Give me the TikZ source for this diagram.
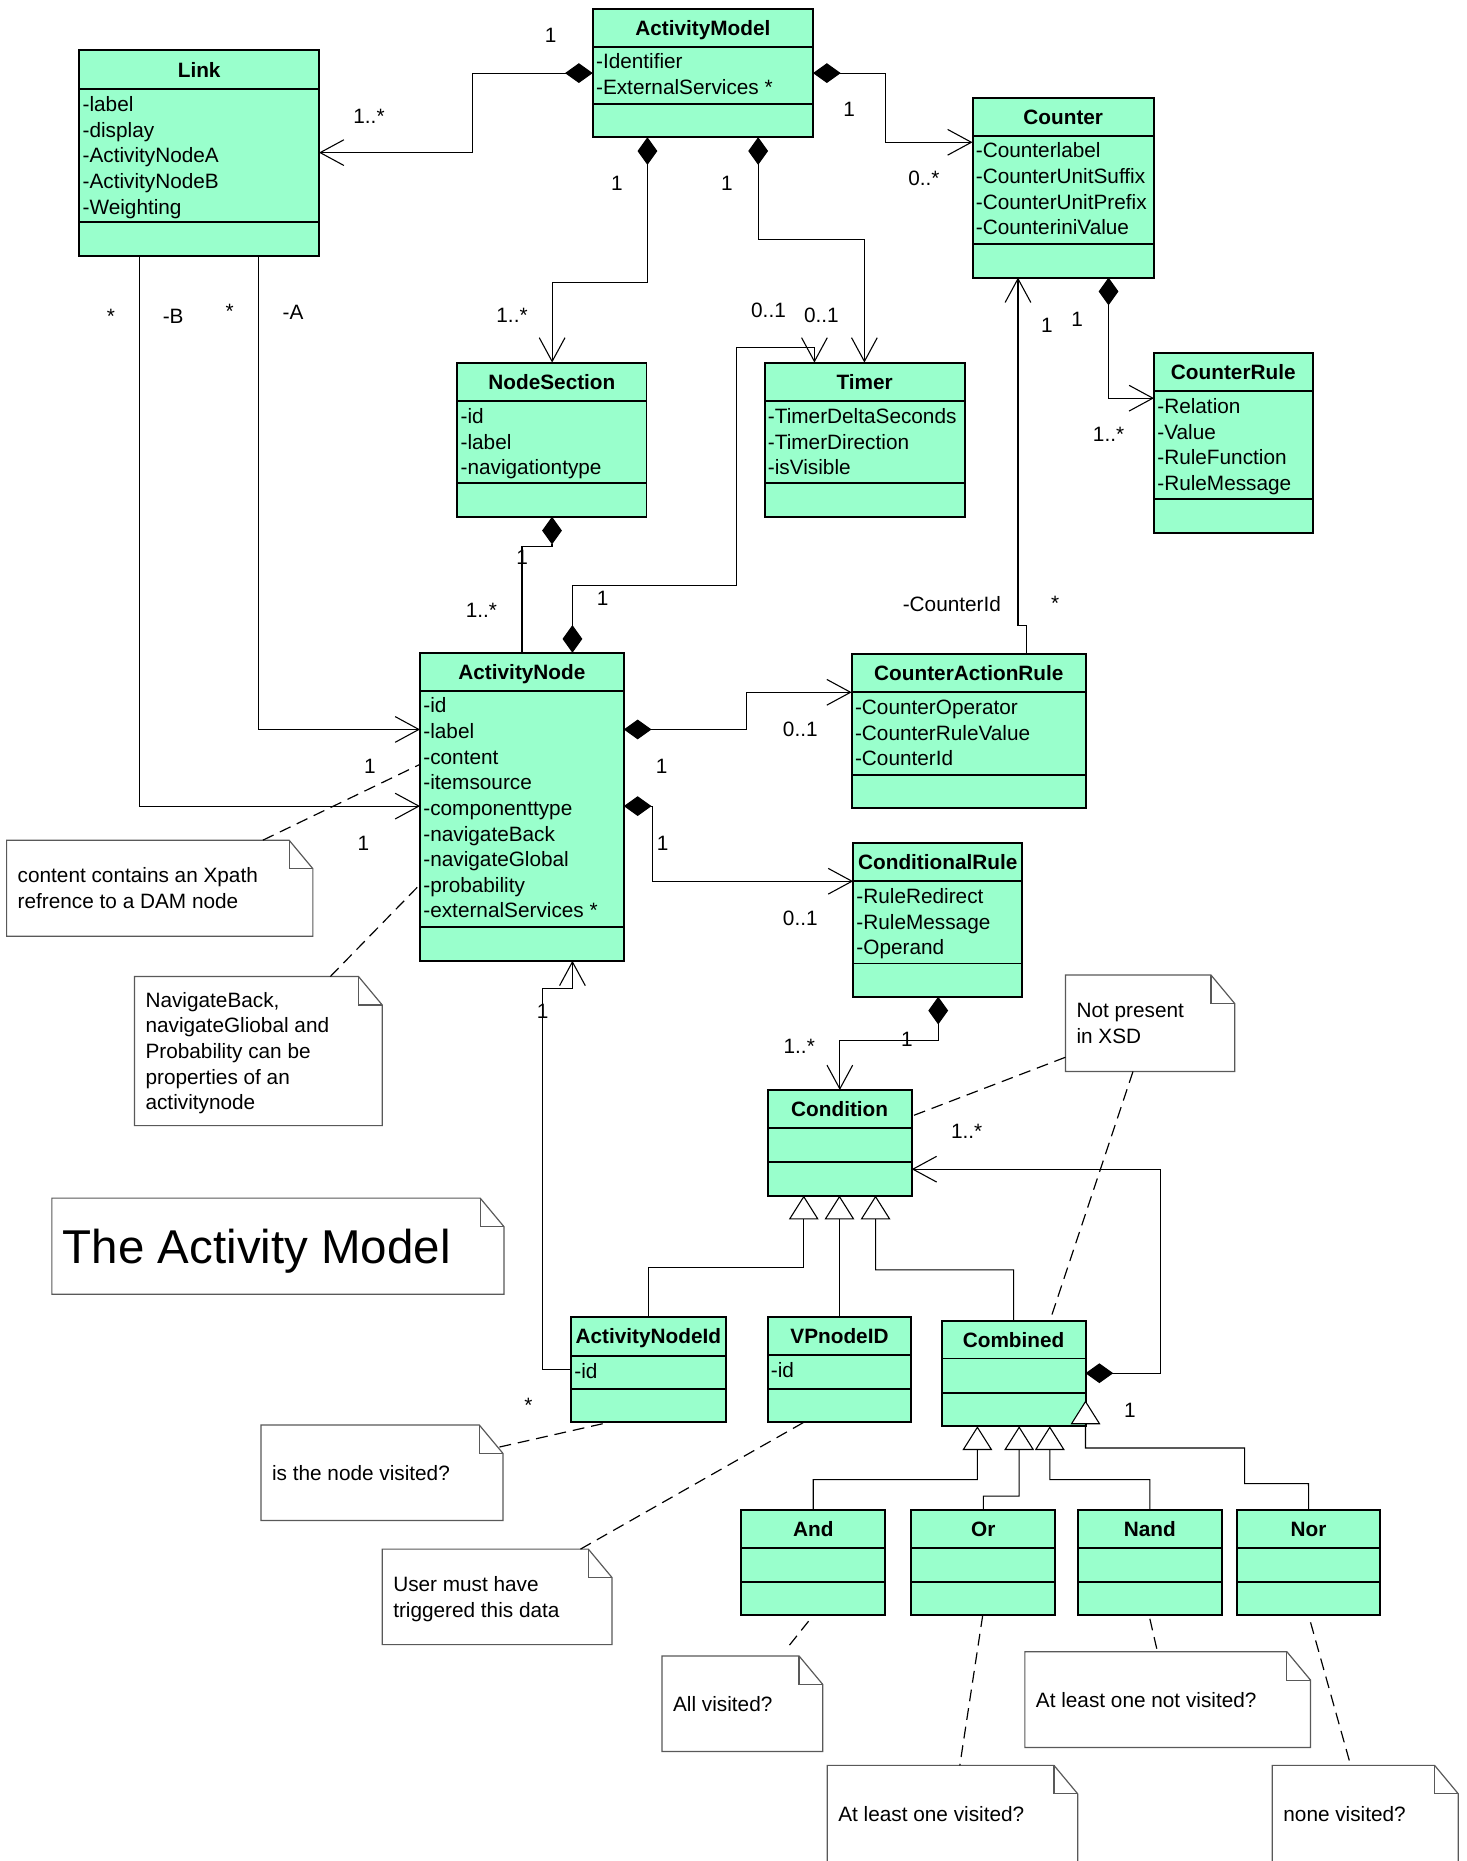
\documentclass[tikz,border=0pt]{standalone}
\usepackage{fontspec}
\setmainfont{Liberation Sans}
\usetikzlibrary{arrows.meta,calc}
\definecolor{mint}{HTML}{99FFCC}
\newcommand\UClass[9]{%
  \pgfmathsetmacro\UW{(#4-#2)*0.6}\pgfmathsetmacro\UH{(#5-#3)*0.6}%
  \node[clsbox, anchor=north west, minimum width=\UW pt, minimum height=\UH pt] (#1) at (#2,#3) {};
  \draw[clsline] (#1.west |- 0,#6) -- (#1.east |- 0,#6);
  \draw[clsline] (#1.west |- 0,#7) -- (#1.east |- 0,#7);
  \node[ctitle] (#1-t) at ({(#2+#4)/2},{(#3+#6)/2}) {#8};
  \foreach \a [count=\i from 0] in {#9} {\node[cattr] (#1-a\i) at ({#2+2.5},{#6+12.5+21.6*\i}) {\a};}
}
% name, x1, y1, x2, y2, number of lines, lines, text style
\newcommand\UNote[8]{%
  \pgfmathsetmacro\UW{(#4-#2)*0.6}\pgfmathsetmacro\UH{(#5-#3)*0.6}%
  \node[notebox, anchor=north west, minimum width=\UW pt, minimum height=\UH pt] (#1) at (#2,#3) {};
  \draw[noteline, fill=white] (#2,#3) -- ({#4-20},#3) -- (#4,{#3+24}) -- (#4,#5) -- (#2,#5) -- cycle;
  \draw[noteline] ({#4-20},#3) -- ({#4-20},{#3+24}) -- (#4,{#3+24});
  \foreach \ln [count=\i from 0] in {#7} {\node[notetext, #8] (#1-t\i) at ({#2+9},{(#3+#5)/2-(#6-1)*10.8+21.6*\i}) {\ln};}
}
\begin{document}
\begin{tikzpicture}[x=0.6pt,y=-0.6pt,
  clsbox/.style={draw=black, line width=1pt, fill=mint, rectangle, inner sep=0pt, outer sep=0pt},
  clsline/.style={draw=black, line width=1pt},
  ctitle/.style={font=\fontsize{10.5}{13}\selectfont\bfseries, inner sep=0pt, text height=7.5pt, text depth=0pt},
  cattr/.style={font=\fontsize{10.5}{13}\selectfont, inner sep=0pt, anchor=west, text height=7.5pt, text depth=0pt},
  lbl/.style={font=\fontsize{10.5}{13}\selectfont, inner sep=0pt, text height=7.5pt, text depth=0pt},
  notebox/.style={rectangle, inner sep=0pt, outer sep=0pt},
  noteline/.style={draw=black!65, line width=0.6pt},
  notetext/.style={font=\fontsize{10.5}{13}\selectfont, inner sep=0pt, anchor=west, text height=7.5pt, text depth=0pt},
  bigtext/.style={font=\fontsize{24}{28}\selectfont, text height=17.2pt},
  conn/.style={line width=0.55pt, line join=miter},
  assoc/.style={conn, -{Straight Barb[length=12pt,width=13pt]}},
  comp/.style={conn, {Diamond[length=14pt,width=10pt]}-{Straight Barb[length=12pt,width=13pt]}},
  compplain/.style={conn, {Diamond[length=14pt,width=10pt]}-},
  gen/.style={conn, -{Triangle[length=12pt,width=15pt,fill=white]}},
  notelink/.style={line width=0.6pt, dash pattern=on 6pt off 3.5pt}
]
\fill[white] (0,0) rectangle (1236,1568);
\useasboundingbox (0,0) rectangle (1236,1568);

% ---------- classes ----------
\UClass{AM}{499.4}{7.3}{685}{115.6}{39.3}{87.6}{ActivityModel}{-Identifier,-ExternalServices *}
\UClass{Link}{66.8}{42}{268.8}{216}{75.3}{187}{Link}{-label,-display,-ActivityNodeA,-ActivityNodeB,-Weighting}
\UClass{Counter}{819.4}{82.3}{972.3}{233.9}{114.3}{205.5}{Counter}{-Counterlabel,-CounterUnitSuffix,-CounterUnitPrefix,-CounteriniValue}
\UClass{CRule}{972.3}{297.2}{1105.9}{449}{329.8}{420.8}{CounterRule}{-Relation,-Value,-RuleFunction,-RuleMessage}
\UClass{Timer}{644.2}{305.5}{812.8}{435.4}{338.1}{407.1}{Timer}{-TimerDeltaSeconds,-TimerDirection,-isVisible}
\UClass{NS}{385.3}{305.5}{544.7}{435.4}{338.1}{406.9}{NodeSection}{-id,-label,-navigationtype}
\UClass{AN}{353.9}{550}{525.6}{809.5}{581.9}{781.2}{ActivityNode}{-id,-label,-content,-itemsource,-componenttype,-navigateBack,-navigateGlobal,-probability,-externalServices *}
\UClass{CAR}{717.6}{551}{915}{680.9}{583.3}{652.6}{CounterActionRule}{-CounterOperator,-CounterRuleValue,-CounterId}
\UClass{CondR}{718.8}{710}{861.4}{839.8}{742.5}{811.8}{ConditionalRule}{-RuleRedirect,-RuleMessage,-Operand}
\UClass{Cond}{646.7}{918.4}{768.2}{1007.4}{950.7}{979}{Condition}{}
\UClass{ANId}{481.1}{1109.8}{611.5}{1198.4}{1142.4}{1170.5}{ActivityNodeId}{-id}
\UClass{VP}{646.7}{1109.8}{767.9}{1198.4}{1142}{1170.5}{VPnodeID}{-id}
\UClass{Comb}{793.4}{1113.2}{914.6}{1201.7}{1144.6}{1173.5}{Combined}{}
\UClass{And}{624.4}{1272.2}{746}{1360.9}{1304.5}{1333}{And}{}
\UClass{Or}{767.9}{1272.2}{889.1}{1360.9}{1304.5}{1333}{Or}{}
\UClass{Nand}{908.4}{1272.2}{1029.2}{1360.9}{1304.5}{1333}{Nand}{}
\UClass{Nor}{1042.4}{1272.2}{1162.7}{1360.9}{1304.5}{1333}{Nor}{}

% ---------- notes ----------
\UNote{nContent}{5.6}{707.9}{263.6}{788.9}{2}{content contains an Xpath,refrence to a DAM node}{}
\UNote{nNav}{113.3}{822.8}{322.1}{948.4}{5}{{NavigateBack,},navigateGliobal and,Probability can be,properties of an,activitynode}{}
\UNote{nXSD}{897.7}{821.5}{1040.3}{902.8}{2}{Not present,in XSD}{}
\UNote{nTitle}{43.7}{1009.5}{424.6}{1090.4}{1}{The Activity Model}{bigtext}
\UNote{nVis}{219.9}{1200.6}{423.8}{1281.1}{1}{is the node visited?}{}
\UNote{nUser}{322}{1305.2}{515.7}{1385.7}{2}{User must have,triggered this data}{}
\UNote{nAll}{557.8}{1395.2}{693.2}{1475.8}{1}{All visited?}{}
\UNote{nOne}{697}{1487.4}{908}{1570}{1}{At least one visited?}{}
\UNote{nNot}{863.5}{1391.6}{1104.2}{1472.4}{1}{At least one not visited?}{}
\UNote{nNone}{1072}{1487.4}{1228.7}{1570}{1}{none visited?}{}

% ---------- note links ----------
\draw[notelink] (nContent.north -| 221.5,0) -- (AN.west |- 0,644);
\draw[notelink] (nNav.north -| 278.3,0) -- (AN.west |- 0,745.2);
\draw[notelink] (nXSD.west |- 0,890.8) -- (Cond.east |- 0,940.4);
\draw[notelink] (nXSD.south -| 954.6,0) -- (Comb.north -| 884.5,0);
\draw[notelink] ($(nVis.north east)+(-3,18.6)$) -- (ANId.south -| 512.9,0);
\draw[notelink] (nUser.north -| 489.1,0) -- (VP.south -| 677.2,0);
\draw[notelink] ($(And.south -| 681.3,0)+(0,5)$) -- ($(nAll.north -| 661.9,0)+(0,-5)$);
\draw[notelink] (Or.south -| 828,0) -- (nOne.north -| 808.7,0);
\draw[notelink] ($(Nand.south -| 968.8,0)+(0,3)$) -- (nNot.north -| 975.2,0);
\draw[notelink] ($(Nor.south -| 1104.2,0)+(0,6)$) -- (nNone.north -| 1138,0);

% ---------- associations / compositions ----------
\draw[comp] (AM.west |- 0,61.6) -- (398.4,61.6) -- (398.4,128.6) -- (Link.east |- 0,128.6);
\draw[comp] (AM.east |- 0,61.6) -- (746,61.6) -- (746,119.9) -- (Counter.west |- 0,119.9);
\draw[comp] (AM.south -| 545.5,0) -- (545.5,237.9) -- (465.2,237.9) -- (NS.north -| 465.2,0);
\draw[comp] (AM.south -| 638.8,0) -- (638.8,201.6) -- (728.3,201.6) -- (Timer.north -| 728.3,0);
\draw[comp] (AN.north -| 482.3,0) -- (482.3,493.3) -- (620.7,493.3) -- (620.7,292.5) -- (686.2,292.5) -- (Timer.north -| 686.2,0);
\draw[compplain] (NS.south -| 465.1,0) -- (465.1,460.5) -- (439.8,460.5) -- (AN.north -| 439.8,0);
\draw[assoc] (Link.south -| 217.9,0) -- (217.9,614.6) -- (AN.west |- 0,614.6);
\draw[assoc] (Link.south -| 117.7,0) -- (117.7,679.2) -- (AN.west |- 0,679.2);
\draw[comp] (AN.east |- 0,614.6) -- (629,614.6) -- (629,583.3) -- (CAR.west |- 0,583.3);
\draw[comp] (AN.east |- 0,679.2) -- (549.5,679.2) -- (549.5,742.5) -- (CondR.west |- 0,742.5);
\draw[assoc] (CAR.north -| 865.1,0) -- (865.1,527) -- (857.7,527) -- (Counter.south -| 857.7,0);
\draw[comp] (Counter.south -| 934,0) -- (934,335.5) -- (CRule.west |- 0,335.5);
\draw[comp] (CondR.south -| 790.5,0) -- (790.5,876.8) -- (707.6,876.8) -- (Cond.north -| 707.6,0);
\draw[comp] (Comb.east |- 0,1157) -- (977.7,1157) -- (977.7,985.1) -- (Cond.east |- 0,985.1);
\draw[assoc] (ANId.west |- 0,1153.8) -- (457.2,1153.8) -- (457.2,833.2) -- (482.3,833.2) -- (AN.south -| 482.3,0);

% ---------- generalizations ----------
\draw[gen] (ANId.north) -- (546.3,1067.8) -- (677.2,1067.8) -- (Cond.south -| 677.2,0);
\draw[gen] (VP.north) -- (VP.north |- Cond.south);
\draw[gen] (Comb.north) -- (854,1070) -- (737.7,1070) -- (Cond.south -| 737.7,0);
\draw[gen] (And.north) -- (685.2,1246.7) -- (823.5,1246.7) -- (Comb.south -| 823.5,0);
\draw[gen] (Or.north) -- (828.5,1260.6) -- (858.7,1260.6) -- (Comb.south -| 858.7,0);
\draw[gen] (Nand.north) -- (968.8,1246.7) -- (884.5,1246.7) -- (Comb.south -| 884.5,0);
\draw[gen] (Nor.north) -- (1102.5,1250) -- (1048.6,1250) -- (1048.6,1220) -- (Comb.east |- 0,1220) -- (Comb.east |- 0,1180);

% ---------- multiplicities / roles ----------
\node[lbl] (m1) at (464,29.3) {1};
\node[lbl] (m2) at (310.9,97.6) {1..*};
\node[lbl] (m3) at (715.5,91.6) {1};
\node[lbl] (m4) at (778.5,150) {0..*};
\node[lbl] (m5) at (519.7,154.2) {1};
\node[lbl] (m6) at (612.4,154.2) {1};
\node[lbl] (m7) at (431.4,265.5) {1..*};
\node[lbl] (m8) at (647.5,261.5) {0..1};
\node[lbl] (m9) at (692,265.5) {0..1};
\node[lbl] (m10) at (93.4,266.5) {*};
\node[lbl] (m11) at (145.9,266.5) {-B};
\node[lbl] (m12) at (193.6,262) {*};
\node[lbl] (m13) at (246.9,263.2) {-A};
\node[lbl] (m14) at (882,273.8) {1};
\node[lbl] (m15) at (907.6,268.5) {1};
\node[lbl] (m16) at (934,365.5) {1..*};
\node[lbl] (m17) at (440,469) {1};
\node[lbl] (m18) at (405.6,513.7) {1..*};
\node[lbl] (m19) at (507.7,503.7) {1};
\node[lbl] (m20) at (802,508.6) {-CounterId};
\node[lbl] (m21) at (889,508) {*};
\node[lbl] (m22) at (311.7,645.2) {1};
\node[lbl] (m23) at (306.2,710.3) {1};
\node[lbl] (m24) at (557.4,645.2) {1};
\node[lbl] (m25) at (674.3,614.6) {0..1};
\node[lbl] (m26) at (558.3,710.3) {1};
\node[lbl] (m27) at (674.3,773.5) {0..1};
\node[lbl] (m28) at (457.2,851.8) {1};
\node[lbl] (m29) at (764.2,875.8) {1};
\node[lbl] (m30) at (673.4,881.1) {1..*};
\node[lbl] (m31) at (814.4,953.4) {1..*};
\node[lbl] (m32) at (952,1188.2) {1};
\node[lbl] (m33) at (445.3,1184) {*};
\end{tikzpicture}
\end{document}
